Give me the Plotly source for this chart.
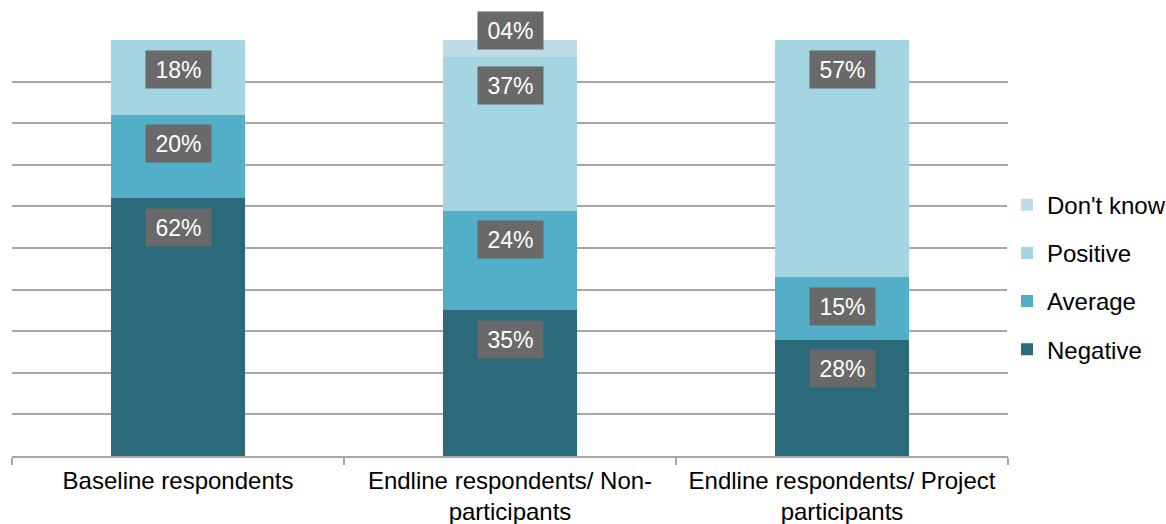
import plotly.graph_objects as go

categories = [
    "Baseline respondents",
    "Endline respondents/ Non-<br>participants",
    "Endline respondents/ Project<br>participants",
]
series_names = ["Negative", "Average", "Positive", "Don't know"]
negative = [62, 35, 28]
average = [20, 24, 15]
positive = [18, 37, 57]
dont_know = [0, 4, 0]
label_text = {
    "Negative": ["62%", "35%", "28%"],
    "Average": ["20%", "24%", "15%"],
    "Positive": ["18%", "37%", "57%"],
    "Don't know": [None, "04%", None],
}
colors = {
    "Negative": "#2B6A7A",
    "Average": "#52AFC7",
    "Positive": "#A3D5E3",
    "Don't know": "#BDDCE6",
}
legend_rank = {"Don't know": 1, "Positive": 2, "Average": 3, "Negative": 4}

values = {"Negative": negative, "Average": average, "Positive": positive, "Don't know": dont_know}
FONT = "Liberation Sans, Arial, sans-serif"

fig = go.Figure()
for name in series_names:
    fig.add_trace(go.Bar(
        x=categories, y=values[name], name=name,
        marker=dict(color=colors[name], line=dict(width=0)),
        legendgroup=name, legendrank=legend_rank[name],
    ))

# value labels placed just inside the top of each segment
annotations = []
for i, cat in enumerate(categories):
    cum = 0
    for name in series_names:
        v = values[name][i]
        cum += v
        txt = label_text[name][i]
        if not txt:
            continue
        small = v < 8
        annotations.append(dict(
            x=cat, y=cum, xref="x", yref="y", text=txt, showarrow=False,
            yshift=10 if small else -29,
            font=dict(family=FONT, size=23, color="white"),
            bgcolor="#696969", width=55, height=27, borderpad=5,
        ))

fig.update_layout(
    barmode="stack",
    bargap=0.596,
    width=1166, height=524,
    margin=dict(l=12, r=158, t=40, b=68, autoexpand=False),
    paper_bgcolor="white", plot_bgcolor="white",
    font=dict(family=FONT, size=24, color="black"),
    showlegend=True,
    legend=dict(
        x=0.999, xanchor="left", y=0.43, yanchor="middle",
        traceorder="grouped", tracegroupgap=14,
        font=dict(family=FONT, size=24, color="black"),
        itemwidth=30,
    ),
    annotations=annotations,
)
fig.update_xaxes(
    showline=True, linecolor="#A6A6A6", linewidth=1.5,
    ticks="outside", tickson="boundaries", ticklen=7, tickcolor="#A6A6A6", tickwidth=1.5,
    ticklabelstandoff=2,
    showgrid=False, tickfont=dict(family=FONT, size=24, color="black"),
)
fig.update_yaxes(
    range=[0, 100], dtick=10, showticklabels=False,
    showgrid=True, gridcolor="#A6A6A6", gridwidth=1.5, zeroline=False,
)

fig.write_html("out.html")
